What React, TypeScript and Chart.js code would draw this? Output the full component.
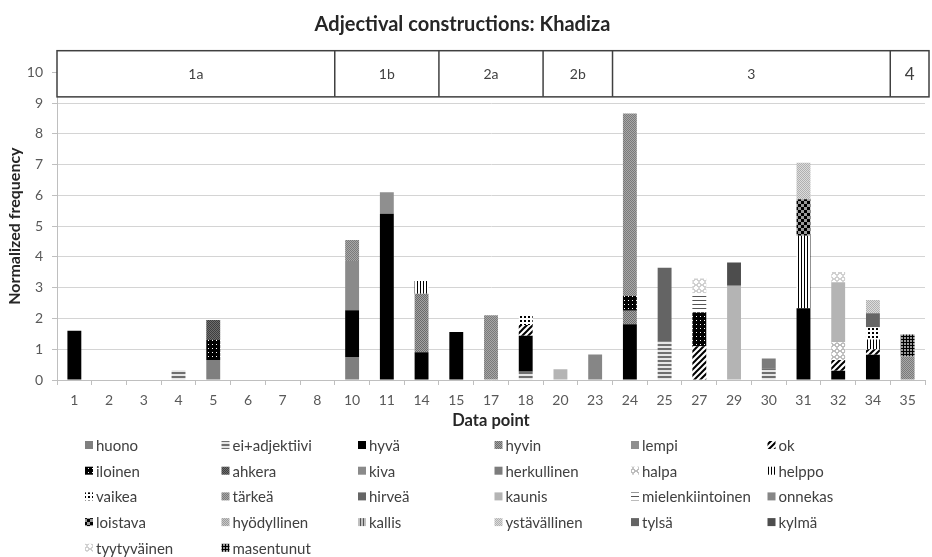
import React, { useEffect, useRef } from 'react';
import { Chart, registerables } from 'chart.js';

Chart.register(...registerables);

// ---------- data ----------
const categories = ['1', '2', '3', '4', '5', '6', '7', '8', '10', '11', '14', '15', '17', '18', '20', '23', '24', '25', '27', '29', '30', '31', '32', '34', '35'];

const stageLabels = ['1a', '1b', '2a', '2b', '3', '4'];
const stageSpans = [8, 3, 3, 2, 8, 1];

const seriesNames = ['huono', 'ei+adjektiivi', 'hyvä', 'hyvin', 'lempi', 'ok', 'iloinen', 'ahkera', 'kiva', 'herkullinen', 'halpa', 'helppo', 'vaikea', 'tärkeä', 'hirveä', 'kaunis', 'mielenkiintoinen', 'onnekas', 'loistava', 'hyödyllinen', 'kallis', 'ystävällinen', 'tylsä', 'kylmä', 'tyytyväinen', 'masentunut'];

//                     1  2  3  4     5     6  7  8  10    11   14    15    17   18    20    23    24    25    27    29    30    31    32    34    35
const huono =        [0, 0, 0, 0,    0.65, 0, 0, 0, 0.75, 0,   0,    0,    0,   0,    0,    0,    0,    0,    0,    0,    0,    0,    0,    0,    0];
const eiAdjektiivi = [0, 0, 0, 0.32, 0,    0, 0, 0, 0,    0,   0,    0,    0,   0.27, 0,    0,    0,    1.24, 0,    0,    0.38, 0,    0,    0,    0];
const hyva =         [1.6, 0, 0, 0,  0,    0, 0, 0, 1.52, 5.4, 0.9,  1.56, 0,   1.17, 0,    0,    1.81, 0,    0,    0,    0,    2.33, 0.3,  0.82, 0];
const hyvin =        [0, 0, 0, 0,    0,    0, 0, 0, 0,    0,   1.9,  0,    0,   0,    0,    0,    0.44, 0,    0,    0,    0,    0,    0,    0,    0];
const lempi =        [0, 0, 0, 0,    0,    0, 0, 0, 0,    0.7, 0,    0,    0,   0,    0,    0,    0,    0,    0,    0,    0,    0,    0,    0,    0];
const ok =           [0, 0, 0, 0,    0,    0, 0, 0, 0,    0,   0,    0,    0,   0.35, 0,    0,    0,    0,    1.1,  0,    0,    0,    0.35, 0.18, 0];
const iloinen =      [0, 0, 0, 0,    0.65, 0, 0, 0, 0,    0,   0,    0,    0,   0,    0,    0,    0.48, 0,    1.09, 0,    0,    0,    0,    0,    0];
const ahkera =       [0, 0, 0, 0,    0.65, 0, 0, 0, 0,    0,   0,    0,    0,   0,    0,    0,    0,    0,    0,    0,    0,    0,    0,    0,    0];
const kiva =         [0, 0, 0, 0,    0,    0, 0, 0, 1.6,  0,   0,    0,    0,   0,    0,    0,    0,    0,    0,    0,    0,    0,    0,    0,    0];
const herkullinen =  [0, 0, 0, 0,    0,    0, 0, 0, 0,    0,   0,    0,    0,   0,    0,    0,    0,    0,    0,    0,    0.32, 0,    0,    0,    0];
const halpa =        [0, 0, 0, 0,    0,    0, 0, 0, 0,    0,   0,    0,    0,   0,    0,    0,    0,    0,    0,    0,    0,    0,    0.58, 0,    0];
const helppo =       [0, 0, 0, 0,    0,    0, 0, 0, 0,    0,   0.42, 0,    0,   0,    0,    0,    0,    0,    0,    0,    0,    2.36, 0,    0.32, 0];
const vaikea =       [0, 0, 0, 0,    0,    0, 0, 0, 0,    0,   0,    0,    0,   0.3,  0,    0,    0,    0,    0,    0,    0,    0,    0,    0.39, 0];
const tarkea =       [0, 0, 0, 0,    0,    0, 0, 0, 0.68, 0,   0,    0,    2.1, 0,    0,    0,    5.93, 0,    0,    0,    0,    0,    0,    0,    0.76];
const hirvea =       [0, 0, 0, 0,    0,    0, 0, 0, 0,    0,   0,    0,    0,   0,    0,    0,    0,    0,    0,    0,    0,    0,    0,    0.46, 0];
const kaunis =       [0, 0, 0, 0,    0,    0, 0, 0, 0,    0,   0,    0,    0,   0,    0.35, 0,    0,    0,    0,    3.06, 0,    0,    1.95, 0,    0];
const mielenkiintoinen = [0, 0, 0, 0, 0,   0, 0, 0, 0,    0,   0,    0,    0,   0,    0,    0,    0,    0,    0.63, 0,    0,    0,    0,    0,    0];
const onnekas =      [0, 0, 0, 0,    0,    0, 0, 0, 0,    0,   0,    0,    0,   0,    0,    0.83, 0,    0,    0,    0,    0,    0,    0,    0,    0];
const loistava =     [0, 0, 0, 0,    0,    0, 0, 0, 0,    0,   0,    0,    0,   0,    0,    0,    0,    0,    0,    0,    0,    1.18, 0,    0,    0];
const hyodyllinen =  [0, 0, 0, 0,    0,    0, 0, 0, 0,    0,   0,    0,    0,   0,    0,    0,    0,    0,    0,    0,    0,    0,    0,    0,    0];
const kallis =       [0, 0, 0, 0,    0,    0, 0, 0, 0,    0,   0,    0,    0,   0,    0,    0,    0,    0,    0,    0,    0,    0,    0,    0,    0];
const ystavallinen = [0, 0, 0, 0,    0,    0, 0, 0, 0,    0,   0,    0,    0,   0,    0,    0,    0,    0,    0,    0,    0,    1.19, 0,    0.43, 0];
const tylsa =        [0, 0, 0, 0,    0,    0, 0, 0, 0,    0,   0,    0,    0,   0,    0,    0,    0,    2.41, 0,    0,    0,    0,    0,    0,    0];
const kylma =        [0, 0, 0, 0,    0,    0, 0, 0, 0,    0,   0,    0,    0,   0,    0,    0,    0,    0,    0,    0.76, 0,    0,    0,    0,    0];
const tyytyvainen =  [0, 0, 0, 0,    0,    0, 0, 0, 0,    0,   0,    0,    0,   0,    0,    0,    0,    0,    0.48, 0,    0,    0,    0.33, 0,    0];
const masentunut =   [0, 0, 0, 0,    0,    0, 0, 0, 0,    0,   0,    0,    0,   0,    0,    0,    0,    0,    0,    0,    0,    0,    0,    0,    0.72];

const seriesValues = [huono, eiAdjektiivi, hyva, hyvin, lempi, ok, iloinen, ahkera, kiva, herkullinen, halpa, helppo, vaikea, tarkea, hirvea, kaunis, mielenkiintoinen, onnekas, loistava, hyodyllinen, kallis, ystavallinen, tylsa, kylma, tyytyvainen, masentunut];

// ---------- styles ----------
type Pat = { kind: string; fg: string; bg?: string; n?: number };
const seriesPatterns: Pat[] = [
  { kind: 'solid', fg: '#7f7f7f' },
  { kind: 'hlines', fg: '#6f6f6f', bg: '#e6e6e6', n: 2 },
  { kind: 'solid', fg: '#000000' },
  { kind: 'checker', fg: '#6a6a6a', bg: '#a4a4a4', n: 1 },
  { kind: 'solid', fg: '#8f8f8f' },
  { kind: 'diag', fg: '#000000', bg: '#ffffff' },
  { kind: 'wdots', fg: '#ffffff', bg: '#000000', n: 4 },
  { kind: 'checker', fg: '#3e3e3e', bg: '#6e6e6e', n: 1 },
  { kind: 'solid', fg: '#8a8a8a' },
  { kind: 'solid', fg: '#7c7c7c' },
  { kind: 'diamond', fg: '#7a7a7a', bg: '#ffffff' },
  { kind: 'vlines', fg: '#000000', bg: '#ffffff' },
  { kind: 'dots', fg: '#000000', bg: '#ffffff' },
  { kind: 'checker', fg: '#7a7a7a', bg: '#a8a8a8', n: 1 },
  { kind: 'solid', fg: '#666666' },
  { kind: 'solid', fg: '#b4b4b4' },
  { kind: 'hlines', fg: '#555555', bg: '#ffffff', n: 1 },
  { kind: 'solid', fg: '#868686' },
  { kind: 'checker', fg: '#000000', bg: '#9a9a9a', n: 3 },
  { kind: 'checker', fg: '#9c9c9c', bg: '#c8c8c8', n: 1 },
  { kind: 'vlines', fg: '#555555', bg: '#c0c0c0' },
  { kind: 'checker', fg: '#b0b0b0', bg: '#dcdcdc', n: 1 },
  { kind: 'solid', fg: '#646464' },
  { kind: 'solid', fg: '#4d4d4d' },
  { kind: 'diamond', fg: '#a0a0a0', bg: '#ffffff' },
  { kind: 'grid', fg: '#000000', bg: '#9a9a9a' },
];

const FONT = 'Lato, "Open Sans", sans-serif';

function tile(ctx: CanvasRenderingContext2D, n: number, draw: (g: CanvasRenderingContext2D) => void) {
  const c = document.createElement('canvas');
  c.width = n;
  c.height = n;
  const g = c.getContext('2d')!;
  draw(g);
  return ctx.createPattern(c, 'repeat')!;
}

function makeFill(ctx: CanvasRenderingContext2D, p: Pat): string | CanvasPattern {
  const bg = p.bg || '#ffffff';
  switch (p.kind) {
    case 'hlines':
      return tile(ctx, 4, (g) => { g.fillStyle = bg; g.fillRect(0, 0, 4, 4); g.fillStyle = p.fg; g.fillRect(0, 0, 4, p.n || 1); });
    case 'vlines':
      return tile(ctx, 3, (g) => { g.fillStyle = bg; g.fillRect(0, 0, 3, 3); g.fillStyle = p.fg; g.fillRect(0, 0, 1, 3); });
    case 'diag':
      return tile(ctx, 6, (g) => {
        g.fillStyle = bg; g.fillRect(0, 0, 6, 6);
        g.strokeStyle = p.fg; g.lineWidth = 2; g.beginPath();
        g.moveTo(-1, 7); g.lineTo(7, -1);
        g.moveTo(-1, 1); g.lineTo(1, -1);
        g.moveTo(5, 7); g.lineTo(7, 5);
        g.stroke();
      });
    case 'dots':
      return tile(ctx, 4, (g) => { g.fillStyle = bg; g.fillRect(0, 0, 4, 4); g.fillStyle = p.fg; g.fillRect(0, 0, 2, 2); });
    case 'wdots': {
      const n = p.n || 3;
      return tile(ctx, n, (g) => { g.fillStyle = bg; g.fillRect(0, 0, n, n); g.fillStyle = p.fg; g.fillRect(0, 0, 1, 1); });
    }
    case 'checker': {
      const n = p.n || 1;
      return tile(ctx, 2 * n, (g) => { g.fillStyle = bg; g.fillRect(0, 0, 2 * n, 2 * n); g.fillStyle = p.fg; g.fillRect(0, 0, n, n); g.fillRect(n, n, n, n); });
    }
    case 'grid':
      return tile(ctx, 3, (g) => { g.fillStyle = bg; g.fillRect(0, 0, 3, 3); g.fillStyle = p.fg; g.fillRect(0, 0, 3, 1); g.fillRect(0, 0, 1, 3); });
    case 'diamond':
      return tile(ctx, 6, (g) => {
        g.fillStyle = bg; g.fillRect(0, 0, 6, 6);
        g.strokeStyle = p.fg; g.lineWidth = 1; g.beginPath();
        g.moveTo(3, 0.5); g.lineTo(5.5, 3); g.lineTo(3, 5.5); g.lineTo(0.5, 3); g.closePath(); g.stroke();
      });
    default:
      return p.fg;
  }
}

export default function App() {
  const ref = useRef<HTMLCanvasElement>(null);

  useEffect(() => {
    const canvas = ref.current!;
    const ctx = canvas.getContext('2d')!;
    const fills = seriesPatterns.map((p) => makeFill(ctx, p));

    const stagePlugin = {
      id: 'stages',
      afterDraw(chart: any) {
        const { ctx: c, chartArea, scales } = chart;
        const xs = scales.x;
        const ys = scales.y;
        const top = chartArea.top;
        const bottom = ys.getPixelForValue(9.2);
        const left = chartArea.left;
        const right = chartArea.right + 4;
        c.save();
        c.fillStyle = '#ffffff';
        c.fillRect(left, top, right - left, bottom - top);
        c.strokeStyle = '#404040';
        c.lineWidth = 1.5;
        c.strokeRect(left, top, right - left, bottom - top);
        let idx = 0;
        let prevX = left;
        stageLabels.forEach((lab, i) => {
          const endIdx = idx + stageSpans[i] - 1;
          const nextX = endIdx < categories.length - 1
            ? (xs.getPixelForValue(endIdx) + xs.getPixelForValue(endIdx + 1)) / 2
            : right;
          if (endIdx < categories.length - 1) {
            c.beginPath();
            c.moveTo(nextX, top);
            c.lineTo(nextX, bottom);
            c.stroke();
          }
          c.fillStyle = '#404040';
          c.font = (lab === '4' ? '17px ' : '14px ') + FONT;
          c.textAlign = 'center';
          c.textBaseline = 'middle';
          c.fillText(lab, (prevX + nextX) / 2, (top + bottom) / 2 + 1);
          prevX = nextX;
          idx = endIdx + 1;
        });

        // y axis title
        c.save();
        c.translate(15, ys.getPixelForValue(5));
        c.rotate(-Math.PI / 2);
        c.fillStyle = '#262626';
        c.font = 'bold 16px ' + FONT;
        c.textAlign = 'center';
        c.textBaseline = 'middle';
        c.fillText('Normalized frequency', 0, 0);
        c.restore();

        // legend
        const colW = 136.5;
        const rowH = 25.7;
        const x0 = 85;
        const y0 = chartArea.bottom + 65;
        c.font = '15px ' + FONT;
        c.textAlign = 'left';
        c.textBaseline = 'middle';
        seriesNames.forEach((name, i) => {
          const col = i % 6;
          const row = Math.floor(i / 6);
          const x = x0 + col * colW;
          const y = y0 + row * rowH;
          c.fillStyle = fills[i] as any;
          c.fillRect(x, y - 4, 8, 8);
          c.fillStyle = '#404040';
          c.fillText(name, x + 11, y + 1);
        });
        c.restore();
      },
    };

    const chart = new Chart(ctx, {
      type: 'bar',
      data: {
        labels: categories,
        datasets: seriesNames.map((name, i) => ({
          label: name,
          data: seriesValues[i].map((v) => (v ? v : null)),
          backgroundColor: fills[i] as any,
          borderWidth: 0,
          barPercentage: 0.4,
          categoryPercentage: 1,
        })),
      },
      options: {
        responsive: false,
        animation: false,
        devicePixelRatio: 1,
        layout: { padding: { left: 0, right: 7, top: 0, bottom: 117 } },
        font: { family: FONT },
        plugins: {
          legend: { display: false },
          tooltip: { enabled: false },
          title: {
            display: true,
            text: 'Adjectival constructions: Khadiza',
            color: '#262626',
            font: { family: FONT, size: 20, weight: 'bold' },
            padding: { top: 13, bottom: 13.7 },
          },
        },
        scales: {
          x: {
            stacked: true,
            offset: true,
            grid: { offset: true, drawOnChartArea: false, drawTicks: true, tickLength: 5, color: '#bfbfbf' },
            border: { color: '#bfbfbf' },
            ticks: { color: '#595959', font: { family: FONT, size: 14 }, padding: 7, maxRotation: 0, autoSkip: false },
            title: {
              display: true,
              text: 'Data point',
              color: '#262626',
              font: { family: FONT, size: 16.5, weight: 'bold' },
              padding: { top: 0, bottom: 9 },
            },
            afterFit: (s: any) => { s.height = 60; },
          },
          y: {
            stacked: true,
            min: 0,
            max: 10.7,
            grid: {
              color: (c: any) => (c.tick && c.tick.value > 9.5 ? 'rgba(0,0,0,0)' : '#d4d4d4'),
              tickColor: '#bfbfbf',
              tickLength: 5,
            },
            border: { color: '#bfbfbf' },
            ticks: { stepSize: 1, includeBounds: false, color: '#595959', font: { family: FONT, size: 14 }, padding: 9 } as any,
            title: { display: false },
            afterFit: (s: any) => { s.width = 57; },
          },
        },
      },
      plugins: [stagePlugin],
    });
    return () => chart.destroy();
  }, []);

  return (
    <div style={{ position: 'absolute', left: 0, top: 0, width: 932, height: 557, background: '#ffffff' }}>
      <canvas ref={ref} width={932} height={557} style={{ width: 932, height: 557, display: 'block' }} />
    </div>
  );
}
